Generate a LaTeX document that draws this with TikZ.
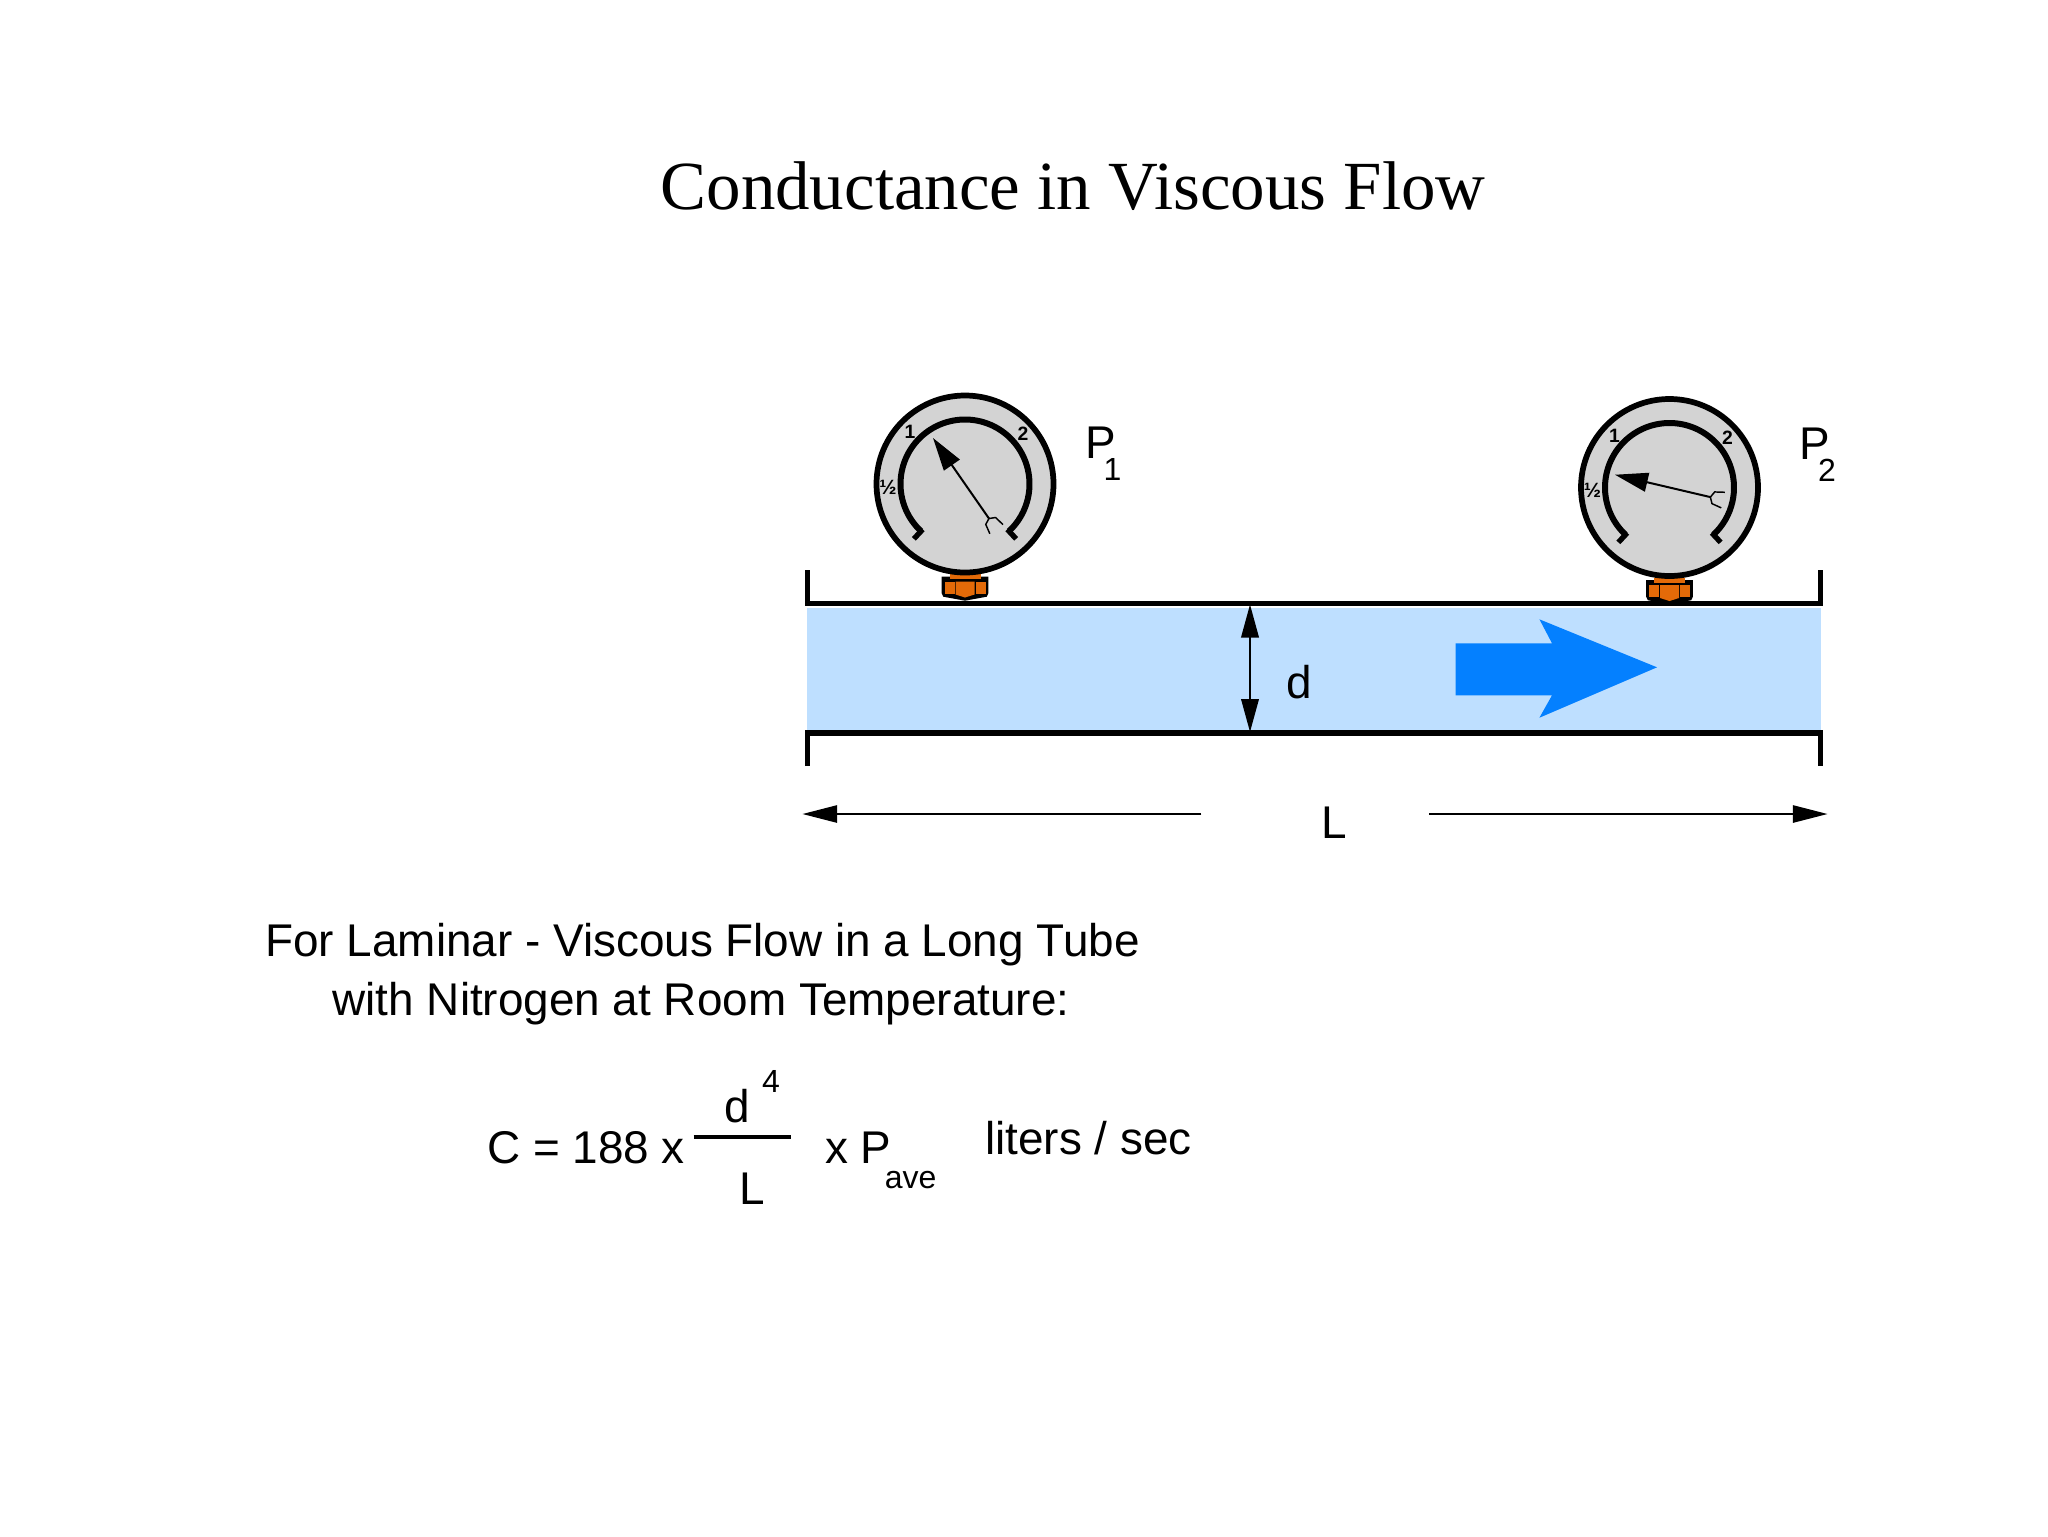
\documentclass[tikz,border=0pt]{standalone}
\usepackage{fontspec}
\setmainfont{Liberation Sans}
\newfontfamily\titlefont{Liberation Serif}
\usetikzlibrary{arrows.meta}
\definecolor{tubefill}{HTML}{BEDFFF}
\definecolor{flowblue}{HTML}{0480FF}
\definecolor{dialgray}{HTML}{D3D3D3}
\definecolor{nutorange}{HTML}{E36A08}
\tikzset{
  txt/.style={inner sep=0pt,font=\fontsize{34.4}{40}\selectfont},
  subtxt/.style={inner sep=0pt,font=\fontsize{24}{28}\selectfont},
  dialtxt/.style={inner sep=0pt,font=\fontsize{14.5}{16}\selectfont\bfseries},
  wall/.style={line width=4pt,line cap=butt,line join=miter},
  dim/.style={line width=1.3pt,-{Triangle[length=26pt,width=13pt]}},
  dimtwo/.style={line width=1.3pt,{Triangle[length=24.75pt,width=13.2pt]}-{Triangle[length=24.75pt,width=13.2pt]}}
}
\begin{document}
\begin{tikzpicture}[x=0.75pt,y=0.75pt,yscale=-1,xscale=1]
\useasboundingbox (0,0) rectangle (2048,1536);

%Shape: Tube [id:tube]
\fill [tubefill] (806.8,608.3) rectangle (1821,730);
\draw [wall] (807.5,570) -- (807.5,603.5) -- (1820.5,603.5) -- (1820.5,570);
\draw [wall] (807.5,766) -- (807.5,733) -- (1820.5,733) -- (1820.5,766);

%Shape: Flow Arrow [id:flow]
\fill [flowblue] (1455.6,643.3) -- (1552,643.3) -- (1539.4,619.3) -- (1657,667.3) -- (1539.4,717.7) -- (1552,695.3) -- (1455.6,695.3) -- cycle;

%Shape: Gauges
\foreach \cx/\cy/\ang/\n in {965/484/235.2/a,1669.5/487.5/193.2/b}{
  \begin{scope}[shift={(\cx,\cy)}]
    %nut
    \fill [black] (-23.3,92.7) -- (23.3,92.7) -- (23.3,109.3) -- (21.7,112.7) -- (0,116.7) -- (-21.7,112.7) -- (-23.3,109.3) -- cycle;
    \fill [nutorange] (-15.5,90) rectangle (15.5,95);
    \fill [nutorange] (-20.5,97.5) rectangle (-10.5,109.5);
    \fill [nutorange] (10.5,97.5) rectangle (20.5,109.5);
    \fill [nutorange] (-9.5,97.5) -- (9.5,97.5) -- (9.5,110.5) -- (0,113.5) -- (-9.5,110.5) -- cycle;
    %dial
    \draw [line width=4.3pt,fill=dialgray] (0,0) circle [radius=88.5];
    \draw [line width=4.5pt] (133:64.5) arc [start angle=133,end angle=407,radius=64.5];
    \draw [line width=4pt] (133:62) -- (133:75);
    \draw [line width=4pt] (47:62) -- (47:75);
    %needle
    \coordinate (tail\n) at (\ang:-42);
    \coordinate (tip\n) at (\ang:56);
    \draw [line width=1.5pt,-{Triangle[length=24.75pt,width=14.25pt]}] (tail\n) -- (tip\n);
    \draw [line width=1.1pt,rotate=\ang] (-55,-8) -- (-45,-6) -- (-42,0) -- (-45,6) -- (-55,8);
    %scale
    \node [dialtxt] (one\n) at (-55,-52) {1};
    \node [dialtxt] (two\n) at (58,-50) {2};
    \node [inner sep=0pt,font=\fontsize{15.5}{18}\selectfont\bfseries] (half\n) at (-77,3) {½};
  \end{scope}
}

%Straight Lines [id:diameter]
\coordinate (dtop) at (1250,604.5);
\coordinate (dbot) at (1250,732);
\draw [dimtwo] (dtop) -- (dbot);

%Straight Lines [id:length]
\coordinate (lleft) at (1201.4,814);
\coordinate (lleftend) at (802.5,814);
\coordinate (lright) at (1429.4,814);
\coordinate (lrightend) at (1827.5,814);
\draw [dim] (lleft) -- (lleftend);
\draw [dim] (lright) -- (lrightend);

%Straight Lines [id:fraction]
\coordinate (fracl) at (693.5,1137);
\coordinate (fracr) at (790.5,1137);
\draw [line width=2.5pt] (fracl) -- (fracr);

% Text Node
\node [inner sep=0pt,font=\fontsize{51.7}{58}\selectfont\titlefont,anchor=base] (title) at (1073,209) {Conductance in Viscous Flow};
% Text Node
\node [txt,anchor=base west] (pone) at (1085,458) {P};
\node [subtxt,anchor=base] (pones) at (1112.5,480) {1};
% Text Node
\node [txt,anchor=base west] (ptwo) at (1799.5,459) {P};
\node [subtxt,anchor=base] (ptwos) at (1827,481) {2};
% Text Node
\node [txt,anchor=base] (dlab) at (1299.5,698) {d};
\node [txt,anchor=base] (llab) at (1334,838) {L};
% Text Node
\node [txt,anchor=base] (introa) at (702.5,956) {For Laminar - Viscous Flow in a Long Tube};
\node [txt,anchor=base] (introb) at (701,1015) {with Nitrogen at Room Temperature:};
% Text Node
\node [txt,anchor=base west] (eqleft) at (487,1163) {C = 188 x};
\node [txt,anchor=base] (eqd) at (737.5,1122) {d};
\node [subtxt,anchor=base] (eqfour) at (771,1092) {4};
\node [txt,anchor=base] (eql) at (752,1204) {L};
\node [txt,anchor=base west] (eqp) at (825,1163) {x P};
\node [subtxt,anchor=base west] (eqave) at (884.5,1188) {ave};
\node [txt,anchor=base west] (equnit) at (985,1154) {liters / sec};

\end{tikzpicture}
\end{document}
